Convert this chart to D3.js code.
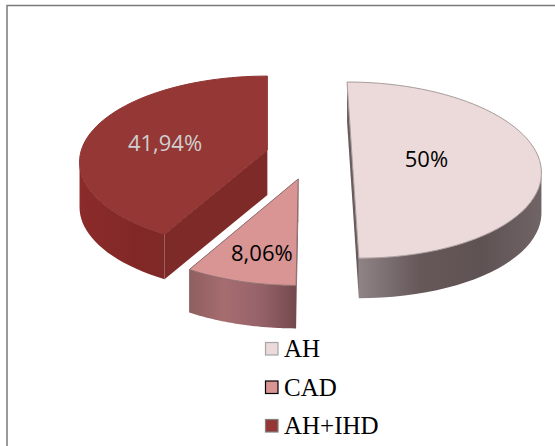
<!DOCTYPE html>
<html>
<head>
<meta charset="utf-8">
<script src="https://cdn.jsdelivr.net/npm/d3@7"></script>
<style>
    html, body { margin: 0; padding: 0; background: #fff; }
    svg { display: block; }
</style>
</head>
<body>
<div id="chart"></div>
<script>
const categories = ['AH', 'CAD', 'AH+IHD']
const shares = [50, 8.06, 41.94]
const shareLabels = ['50%', '8,06%', '41,94%']

const WIDTH = 555
const HEIGHT = 446
const CENTER = [309, 156]
const RADIUS_X = 186
const BACK_RADIUS = 74
const EXPLODE = 43
const EXPLODE_SQUASH = 0.55

// Each slice was exploded and foreshortened a little differently
const perspectives = [0.16, 0.18, 0.14]
const leans = [0.067, -0.02, 0]
const depths = [40, 43, 45]

const topColors = ['#ecd9d9', '#d99594', '#953735']
const edgeColors = ['#a89c9c', '#8f6f6f', '#8f3634']
const sideFaceColors = ['#6a5c5e', '#8a5a5e', '#7e2a28']
const wallStops = [
    ['#8f8386', '#665859', '#5f5253', '#716466'],
    ['#8f5f60', '#a66d70', '#96626a', '#744a4e'],
    ['#8b2b2a', '#862a28', '#812826', '#7e2a28']
]
const labelColors = ['#000', '#000', '#cfcfcf']
const labelReach = [0.4, 0.73, 0.58]
const labelShift = [[0, 0], [4, 0], [0, 2]]
const legendStrokes = ['#a6a6a6', '#000', '#7f7f7f']

const svg = d3.select('#chart')
    .append('svg')
    .attr('width', WIDTH)
    .attr('height', HEIGHT)

svg.append('rect')
    .attr('width', WIDTH)
    .attr('height', HEIGHT)
    .attr('fill', '#fff')

// Chart frame, only its top and left edges fall on the page
svg.append('path')
    .attr('d', `M7,${HEIGHT}V5.5H${WIDTH}`)
    .attr('fill', 'none')
    .attr('stroke', '#7a7a7a')
    .attr('stroke-width', 1.5)

const defs = svg.append('defs')

// Angles run clockwise from straight up, the first slice starts at 0
const arcs = d3.pie().sort(null).value(d => d)(shares)

// Puts a point of the unit disc on screen, near side bigger than far side
function project(i, angle, reach, offset) {
    const p = perspectives[i]
    const u = Math.sin(angle) * reach
    const v = -Math.cos(angle) * reach
    const w = 1 - v * p
    const dy = BACK_RADIUS * (1 + p) * v / w
    const x = CENTER[0] + offset[0] + RADIUS_X * u / w + leans[i] * dy
    const y = CENTER[1] + offset[1] + dy
    return [x, y]
}

const slices = arcs.map((arc, i) => {
    const mid = (arc.startAngle + arc.endAngle) / 2
    const offset = [
        EXPLODE * Math.sin(mid),
        -EXPLODE * Math.cos(mid) * EXPLODE_SQUASH
    ]
    const angles = d3.range(0, 61).map(d3.scaleLinear()
        .domain([0, 60])
        .range([arc.startAngle, arc.endAngle]))
    return {
        i,
        mid,
        offset,
        apex: project(i, 0, 0, offset),
        rim: angles.map(a => project(i, a, 1, offset))
    }
})

const line = d3.line()

function drawWalls(group, s) {
    const down = p => [p[0], p[1] + depths[s.i]]

    // Straight faces first, rim wall goes over them
    const first = s.rim[0]
    const last = s.rim[s.rim.length - 1]
    ;[first, last].forEach(p => {
        group.append('path')
            .attr('d', line([s.apex, p, down(p), down(s.apex)]) + 'Z')
            .attr('fill', sideFaceColors[s.i])
    })

    // Only the part of the rim facing the viewer is shown
    const front = s.rim.filter((p, k) => {
        const next = s.rim[k + 1] || p
        const prev = s.rim[k - 1] || p
        return next[0] < prev[0]
    })
    if (!front.length) return

    const gradientId = `wall-${s.i}`
    const xExtent = d3.extent(front, p => p[0])
    const gradient = defs.append('linearGradient')
        .attr('id', gradientId)
        .attr('gradientUnits', 'userSpaceOnUse')
        .attr('x1', xExtent[0])
        .attr('x2', xExtent[1])
        .attr('y1', 0)
        .attr('y2', 0)
    wallStops[s.i].forEach((c, k, all) => {
        gradient.append('stop')
            .attr('offset', k / (all.length - 1))
            .attr('stop-color', c)
    })

    const outline = front.concat(front.slice().reverse().map(down))
    group.append('path')
        .attr('d', line(outline) + 'Z')
        .attr('fill', `url(#${gradientId})`)
}

// Back slices first so nearer ones overlap them
const order = [2, 0, 1]
order.forEach(i => {
    const s = slices[i]
    const group = svg.append('g').attr('class', 'slice')
    drawWalls(group, s)
    group.append('path')
        .attr('d', line([s.apex, ...s.rim]) + 'Z')
        .attr('fill', topColors[i])
        .attr('stroke', edgeColors[i])
        .attr('stroke-width', 1)
        .attr('stroke-linejoin', 'round')
})

svg.selectAll('.value-label')
    .data(slices)
    .join('text')
    .attr('class', 'value-label')
    .attr('transform', s => {
        const [x, y] = project(s.i, s.mid, labelReach[s.i], s.offset)
        return `translate(${x + labelShift[s.i][0]},${y + labelShift[s.i][1]})`
    })
    .attr('text-anchor', 'middle')
    .attr('dy', '0.5em')
    .attr('font-family', '"Open Sans", sans-serif')
    .attr('font-size', 22)
    .attr('fill', s => labelColors[s.i])
    .text(s => shareLabels[s.i])

// Legend, stacked under the pie
const legendY = d3.scalePoint()
    .domain(categories)
    .range([348.5, 425.5])

const legend = svg.selectAll('.legend-row')
    .data(categories)
    .join('g')
    .attr('class', 'legend-row')
    .attr('transform', d => `translate(265,${legendY(d)})`)

legend.append('rect')
    .attr('x', 0.5)
    .attr('y', -6)
    .attr('width', 12.5)
    .attr('height', 12.5)
    .attr('fill', (d, i) => topColors[i])
    .attr('stroke', (d, i) => legendStrokes[i])
    .attr('stroke-width', 1.2)

legend.append('text')
    .attr('x', 19)
    .attr('y', 8.5)
    .attr('font-family', '"Liberation Serif", serif')
    .attr('font-size', 25)
    .attr('fill', '#000')
    .text(d => d)
</script>
</body>
</html>
